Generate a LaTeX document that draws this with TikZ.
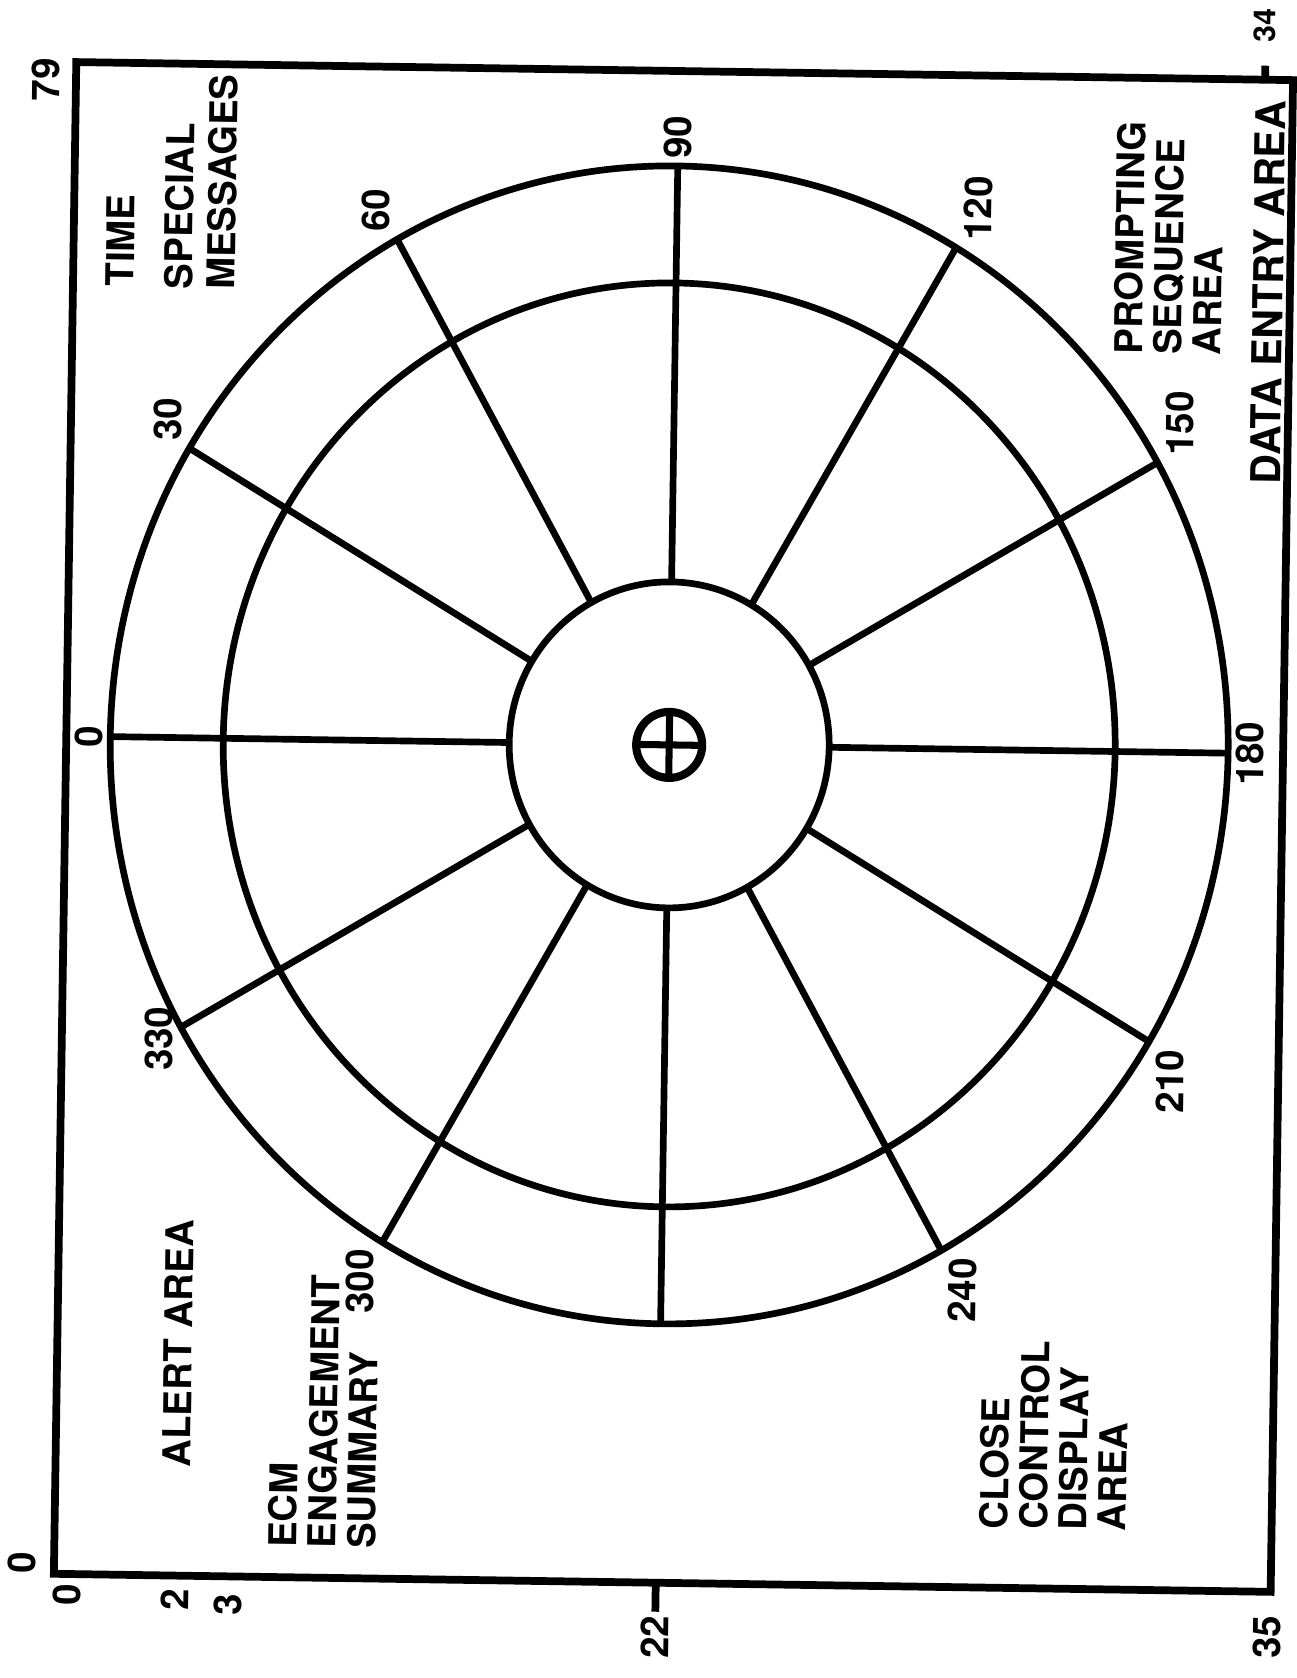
\documentclass[tikz,border=0pt]{standalone}
\usepackage{fontspec}
\setmainfont{TeX Gyre Heros}
\usetikzlibrary{calc}

\begin{document}
\begin{tikzpicture}[
		x=0.01cm, y=-0.01cm,
		% --- ESTILOS ---
		frame/.style = {draw, line width=2.2pt, line join=miter},
		ring/.style = {draw, line width=1.9pt},
		spoke/.style = {draw, line width=1.9pt},
		txt/.style = {rotate=90, inner sep=0pt, align=left, font=\fontsize{10.9}{11.2}\selectfont\bfseries},
		num/.style = {rotate=90, inner sep=2pt, font=\fontsize{10.9}{11.2}\selectfont\bfseries}
		]
		
		\fill[white] (0,0) rectangle (1297,1678);
		\useasboundingbox (0,0) rectangle (1297,1678);
		
		\begin{scope}[rotate around={-0.85:(673.5,827)}, transform shape]
		
		% --- MARCO ---
		\coordinate (tl) at (65,71);
		\coordinate (br) at (1282,1583);
		\draw[frame] (tl) rectangle (br);
		
		% Marcas de escala
		\coordinate (b22) at (667,1583);
		\coordinate (t34) at (1254,71);
		\draw[frame] (b22) -- ++(0,29) coordinate (e22);
		\draw[frame] (t34) -- ++(0,-14) coordinate (e34);
		\node[num, anchor=east, inner sep=1pt] (n22) at (e22) {22};
		\node[num, font=\fontsize{8.6}{9}\selectfont\bfseries] (n34) at (1253,17) {34};
		\node[num] (n79) at (35,89) {79};
		\node[num] (n0l) at (33,1572) {0};
		\node[num] (n0b) at (78,1604) {0};
		\node[num] (n2) at (186,1607) {2};
		\node[num] (n3) at (240,1611) {3};
		\node[num] (n35) at (1279,1628) {35};
		
		% --- RUEDA ---
		\coordinate (ctr) at (668,745);
		\draw[ring] (ctr) ellipse [x radius=559, y radius=579];
		\draw[ring] (ctr) ellipse [x radius=446, y radius=462];
		\draw[ring] (ctr) ellipse [x radius=160, y radius=163];
		
		% Radios
		\foreach \a in {0,30,...,330}
		\draw[spoke] ($(ctr)+(\a+180:160 and 163)$) -- ($(ctr)+(\a+180:559 and 579)$) coordinate (s\a);
		
		% Rumbos
		\foreach \a/\anc/\dy in {0/south/0, 30/south west/0, 60/south west/0, 90/west/0, 120/north west/0,
			150/north west/0, 180/north/0, 210/north east/0, 240/north east/0, 300/south east/0, 330/south/12}
		\node[num, anchor=\anc] (r\a) at ($(s\a)+(0,\dy)$) {\a};
		
		% Cruz central
		\draw[ring, line width=2.3pt] (ctr) circle [radius=33];
		\draw[ring, line width=2pt] ($(ctr)+(-33,0)$) -- ($(ctr)+(33,0)$);
		\draw[ring, line width=2pt] ($(ctr)+(0,-33)$) -- ($(ctr)+(0,33)$);
		
		% --- AREAS ---
		\node[txt, anchor=west] (time) at (112,295) {TIME};
		\node[txt, anchor=north west, font=\fontsize{10.9}{12.2}\selectfont\bfseries] (spec) at (155,297) {SPECIAL\\MESSAGES};
		\node[txt, anchor=west] (alert) at (186,1475) {ALERT AREA};
		\node[txt, anchor=north west] (ecm) at (278,1554) {ECM\\ENGAGEMENT\\SUMMARY};
		\node[txt, anchor=north west] (close) at (989,1525) {CLOSE\\CONTROL\\DISPLAY\\AREA};
		\node[txt, anchor=north west] (prompt) at (1106,348) {PROMPTING\\SEQUENCE\\AREA};
		\node[txt, anchor=west, font=\fontsize{11.7}{12}\selectfont\bfseries] (data) at (1260,476) {DATA ENTRY AREA};
		
		\end{scope}
		
	\end{tikzpicture}
\end{document}
